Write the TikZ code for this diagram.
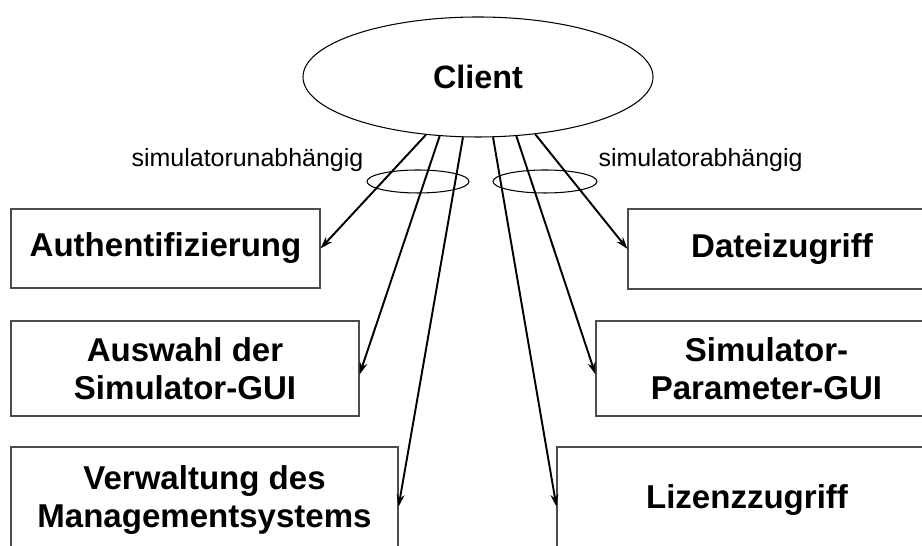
\documentclass[tikz,border=0pt]{standalone}
\usepackage{fontspec}
\setmainfont{Liberation Sans}
\usetikzlibrary{shapes.geometric,arrows.meta}

\begin{document}
\begin{tikzpicture}[
  box/.style={draw=black!70,line width=0.6pt,rectangle,inner sep=0pt,align=center,font=\fontsize{18.8}{21.6}\selectfont\bfseries},
  lbl/.style={inner sep=0pt,font=\fontsize{14.2}{17}\selectfont},
  pfeil/.style={line width=1.1pt,-{Stealth[length=7pt,width=4.5pt]}}]
\useasboundingbox (0,0) rectangle (18.44,10.92);
\clip (0,0) rectangle (18.44,10.92);
% Client
\node[draw,ellipse,line width=0.6pt,minimum width=7cm,minimum height=2.4cm,inner sep=0pt,font=\fontsize{18.4}{22}\selectfont\bfseries] (client) at (9.56,9.38) {Client};
% Kaesten links
\node[box,minimum width=6.18cm,minimum height=1.58cm] (auth) at (3.31,5.95) {Authentifizierung};
\node[box,minimum width=6.96cm,minimum height=1.90cm] (auswahl) at (3.70,3.55) {Auswahl der\\Simulator-GUI};
\node[box,minimum width=7.74cm,minimum height=2.12cm] (verwaltung) at (4.09,0.92) {Verwaltung des\\Managementsystems};
% Kaesten rechts
\node[box,minimum width=6.16cm,minimum height=1.60cm] (datei) at (15.64,5.94) {Dateizugriff};
\node[box,minimum width=6.82cm,minimum height=1.90cm] (simparam) at (15.33,3.55) {Simulator-\\Parameter-GUI};
\node[box,minimum width=7.60cm,minimum height=2.12cm] (lizenz) at (14.94,0.92) {Lizenzzugriff};
% Pfeile
\draw[pfeil] (client.228) -- (auth.east);
\draw[pfeil] (client.237) -- (auswahl.-2);
\draw[pfeil] (client.256) -- (verwaltung.-2);
\draw[pfeil] (client.284) -- (lizenz.182);
\draw[pfeil] (client.303) -- (simparam.182);
\draw[pfeil] (client.315) -- (datei.west);
% Gruppen
\draw[line width=0.6pt] (8.36,7.29) ellipse (1.02 and 0.23);
\draw[line width=0.6pt] (10.90,7.29) ellipse (1.04 and 0.23);
\node[lbl] (unabh) at (4.95,7.71) {simulatorunabhängig};
\node[lbl] (abh) at (14.01,7.71) {simulatorabhängig};
\end{tikzpicture}
\end{document}
